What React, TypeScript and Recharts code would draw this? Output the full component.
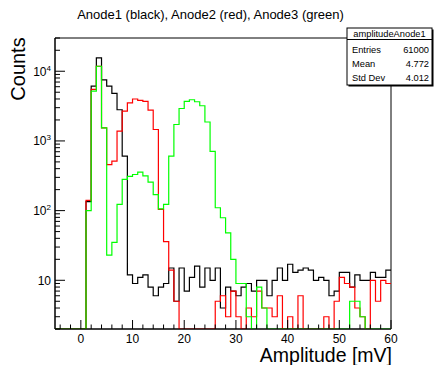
import { LineChart, Line, XAxis, YAxis, ReferenceArea } from 'recharts';

// 1 mV bins, first bin starts at -5 mV, last one ends at 60 mV
const firstBin = -5;
const lastEdge = 60;

// counts per bin, bins -5 .. 59
const anode1 = [
  0, 0, 0, 0, 0, 0, 135, 6100, 15600, 7500, 6100, 4800, 2800, 605, 12, 9, 11, 12, 8, 6, 8, 9, 15, 5, 15, 7, 11, 16, 8,
  15, 10, 15, 4, 8, 7, 6, 8, 9, 7, 10, 10, 6, 10, 15, 10, 17, 13, 14, 15, 14, 10, 11, 10, 6, 7, 13, 13, 8, 12, 10, 10,
  13, 11, 11, 14,
];
const anode2 = [
  0, 0, 0, 0, 0, 0, 140, 5500, 11800, 1540, 458, 513, 1380, 2670, 3520, 4000, 3830, 3700, 2760, 1460, 104, 36, 14, 5, 0,
  0, 0, 0, 0, 0, 0, 5, 6, 3, 7, 3, 0, 4, 3, 7, 4, 4, 3, 6, 0, 3, 0, 6, 0, 0, 0, 0, 3, 0, 5, 11, 9, 8, 4, 3, 0, 10, 5, 10,
  9,
];
const anode3 = [
  0, 0, 0, 0, 0, 0, 100, 5200, 11800, 1540, 23, 35, 123, 280, 310, 330, 356, 316, 256, 170, 106, 123, 605, 1720, 2920,
  3700, 3900, 3650, 3200, 1870, 710, 110, 79, 48, 20, 9, 9, 3, 0, 8, 4, 0, 0, 0, 0, 0, 0, 0, 0, 0, 0, 0, 0, 0, 0, 0, 0,
  5, 5, 3, 0, 0, 0, 0, 0,
];

const xTicks = [-4, -2, 0, 2, 4, 6, 8, 10, 12, 14, 16, 18, 20, 22, 24, 26, 28, 30, 32, 34, 36, 38, 40, 42, 44, 46, 48, 50, 52, 54, 56, 58, 60];
const yDecades = [1, 10, 100, 1000, 10000];
const yMultipliers = [1, 2, 3, 4, 5, 6, 7, 8, 9];
const yMin = 2;
const yMax = 30000;

const yTicks: number[] = [];
yDecades.forEach((d) =>
  yMultipliers.forEach((m) => {
    const v = d * m;
    if (v >= yMin && v <= yMax) yTicks.push(v);
  }),
);

// ROOT draws empty bins on the lower edge of a log frame
const clamp = (v: number) => (v < yMin ? yMin : v);

const rows = anode1.map((_, i) => ({
  x: firstBin + i,
  a1: clamp(anode1[i]),
  a2: clamp(anode2[i]),
  a3: clamp(anode3[i]),
}));
rows.push({ ...rows[rows.length - 1], x: lastEdge });

const font = "'Liberation Sans', Arial, Helvetica, sans-serif";

function XTick({ x, y, payload }: any) {
  const v = payload.value as number;
  const major = v % 10 === 0;
  return (
    <g>
      <line x1={x} x2={x} y1={y} y2={y - (major ? 9 : 4.5)} stroke="#000" />
      {major && v >= 0 && (
        <text x={x} y={y + 14} textAnchor="middle" fontSize={12} fontFamily={font} fill="#000">
          {v}
        </text>
      )}
    </g>
  );
}

function YTick({ x, y, payload }: any) {
  const v = payload.value as number;
  const exp = Math.round(Math.log10(v));
  const major = Math.abs(v - Math.pow(10, exp)) < 1e-6;
  return (
    <g>
      <line x1={x} x2={x + (major ? 10 : 5)} y1={y} y2={y} stroke="#000" />
      {major && (
        <text x={x - 4} y={y + 4.5} textAnchor="end" fontSize={12} fontFamily={font} fill="#000">
          10
          {exp > 1 && (
            <tspan dy={-5} fontSize={8}>
              {exp}
            </tspan>
          )}
        </text>
      )}
    </g>
  );
}

export default function App() {
  return (
    <div style={{ position: 'absolute', left: 0, top: 0, width: 435, height: 365, background: '#fff' }}>
      <LineChart width={435} height={365} data={rows} margin={{ top: 38, right: 44, bottom: 0, left: 0 }}>
        <XAxis
          dataKey="x"
          type="number"
          domain={[firstBin, lastEdge]}
          ticks={xTicks}
          interval={0}
          height={36}
          tickSize={0}
          tickMargin={0}
          tickLine={false}
          axisLine={{ stroke: '#000' }}
          tick={<XTick />}
          allowDataOverflow
        />
        <YAxis
          scale="log"
          domain={[yMin, yMax]}
          ticks={yTicks}
          interval={0}
          width={55}
          tickSize={0}
          tickMargin={0}
          tickLine={false}
          axisLine={{ stroke: '#000' }}
          tick={<YTick />}
          allowDataOverflow
        />
        <ReferenceArea x1={firstBin} x2={lastEdge} y1={yMin} y2={yMax} fill="none" stroke="#000" strokeWidth={1} />
        <Line type="stepAfter" dataKey="a1" stroke="#000000" strokeWidth={1.2} dot={false} isAnimationActive={false} />
        <Line type="stepAfter" dataKey="a2" stroke="#ff0000" strokeWidth={1.2} dot={false} isAnimationActive={false} />
        <Line type="stepAfter" dataKey="a3" stroke="#00ff00" strokeWidth={1.2} dot={false} isAnimationActive={false} />
      </LineChart>
      <svg width={435} height={365} style={{ position: 'absolute', left: 0, top: 0, pointerEvents: 'none' }}>
        <text x={210.5} y={19} textAnchor="middle" fontSize={13} fontFamily={font} fill="#000">
          Anode1 (black), Anode2 (red), Anode3 (green)
        </text>
        <g transform="translate(25 69) rotate(-90)">
          <text x={0} y={0} textAnchor="middle" fontSize={20} fontFamily={font} fill="#000">
            Counts
          </text>
        </g>
        <text x={392} y={362} textAnchor="end" fontSize={19.5} fontFamily={font} fill="#000">
          Amplitude [mV]
        </text>
        <rect x={348.5} y={29.5} width={85} height={57} fill="#000" />
        <rect x={347} y={28} width={85} height={57} fill="#fff" stroke="#000" />
        <line x1={347} x2={432} y1={39.5} y2={39.5} stroke="#000" />
        <text x={389.5} y={37} textAnchor="middle" fontSize={9.3} fontFamily={font} fill="#000">
          amplitudeAnode1
        </text>
        <text x={352} y={52.5} fontSize={9.3} fontFamily={font} fill="#000">Entries</text>
        <text x={429} y={52.5} textAnchor="end" fontSize={9.3} fontFamily={font} fill="#000">61000</text>
        <text x={352} y={66.5} fontSize={9.3} fontFamily={font} fill="#000">Mean</text>
        <text x={429} y={66.5} textAnchor="end" fontSize={9.3} fontFamily={font} fill="#000">4.772</text>
        <text x={352} y={80.5} fontSize={9.3} fontFamily={font} fill="#000">Std Dev</text>
        <text x={429} y={80.5} textAnchor="end" fontSize={9.3} fontFamily={font} fill="#000">4.012</text>
      </svg>
    </div>
  );
}
